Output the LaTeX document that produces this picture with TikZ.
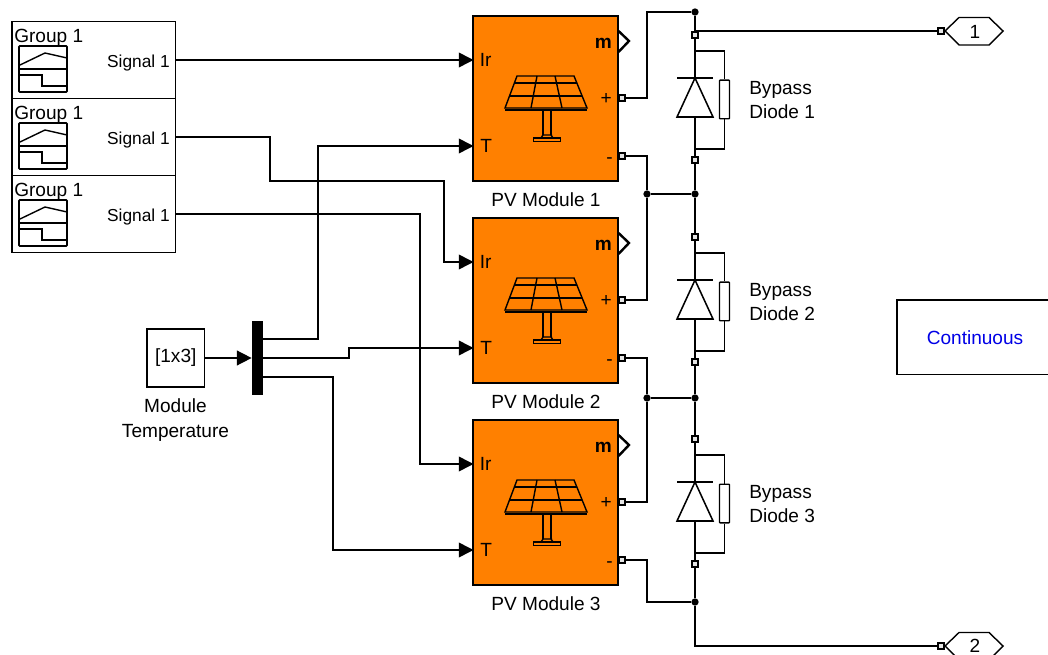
\documentclass[tikz,border=0pt]{standalone}
\usepackage{xcolor}
\usepackage{fontspec}
\setmainfont{Liberation Sans}
\usetikzlibrary{arrows.meta, calc}
\definecolor{pvorange}{RGB}{255, 128, 0}
\definecolor{solverblue}{RGB}{0, 0, 230}

\begin{document}
\begin{tikzpicture}[
  x=0.75pt, y=-0.75pt,
  wire/.style={line width=1.15pt, black},
  arr/.style={wire, -{Triangle[length=11pt, width=11pt]}},
  module/.style={draw, fill=pvorange, line width=1.4pt, minimum width=108.5pt, minimum height=124pt, inner sep=0pt},
  groupbox/.style={draw, fill=white, line width=1.2pt, minimum width=122.5pt, minimum height=57.5pt, inner sep=0pt},
  constbox/.style={draw, line width=1pt, minimum width=43pt, minimum height=43.5pt, inner sep=0pt, font=\fontsize{14.3}{17}\selectfont},
  mux/.style={fill=black, minimum width=8pt, minimum height=56pt, inner sep=0pt},
  portbox/.style={draw=black, fill=black!10, line width=1.6pt, minimum size=4pt, inner sep=0pt},
  junction/.style={circle, fill=black, minimum size=5.5pt, inner sep=0pt},
  resbox/.style={draw, fill=white, rounded corners=0.5pt, line width=1pt, minimum width=7.5pt, minimum height=29pt, inner sep=0pt},
  lbl/.style={font=\fontsize{14.3}{18.5}\selectfont, align=center, inner sep=0pt},
  sig/.style={font=\fontsize{13}{16}\selectfont, inner sep=0pt},
  icon/.style={line width=1.05pt},
  outport/.style={line width=1.05pt}
]
  \useasboundingbox (0,0) rectangle (1048,655);

  % Signal groups
  \foreach \i/\y in {1/60, 2/137, 3/214} {
    \node[groupbox] (group\i) at (93.75,\y) {};
    \node[lbl, anchor=base west] (grouptext\i) at (14,\y-17) {Group 1};
    \node[sig, anchor=east] (signal\i) at (170,\y+3) {Signal 1};
    \draw[line width=1.2pt, rounded corners=0.6pt] (19,\y-14) rectangle (67,\y+32);
    \draw[icon] (19,\y+9) -- (67,\y+9);
    \draw[icon] (20,\y+5) -- (45,\y-7) -- (67,\y-2);
    \draw[icon] (20,\y+15) -- (42,\y+15) -- (42,\y+26) -- (67,\y+26);
  }

  % Temperature source
  \node[constbox] (temp) at (175.75,358) {\raisebox{-3.7pt}[0pt][0pt]{[1x3]}};
  \node[lbl] (templabel) at (175.5,420) {Module\\Temperature};
  \node[mux] (mux) at (257.25,358) {};
  \coordinate (muxa) at (262.5,339);
  \coordinate (muxc) at (262.5,377);

  % PV modules, bypass diodes
  \foreach \i/\y in {1/0, 2/202, 3/404} {
    \node[module] (pv\i) at (545.75,98.5+\y) {};
    \node[lbl] (pvlabel\i) at (546,200+\y) {PV Module \i};
    \coordinate (ir\i) at (473.5,60+\y);
    \coordinate (t\i) at (473.5,146+\y);
    \node[lbl, anchor=west] (irtext\i) at (479.5,60+\y) {Ir};
    \node[lbl, anchor=west] (ttext\i) at (480,146+\y) {T};
    \node[lbl, anchor=east, font=\fontsize{14.3}{17}\bfseries] (mtext\i) at (612,43+\y) {m};
    \node[lbl, anchor=east] (plustext\i) at (612,99+\y) {+};
    \node[lbl, anchor=east] (minustext\i) at (613,161+\y) {-};
    \draw[line width=1.8pt] (618.5,31+\y) -- (629,41+\y) -- (618.5,52+\y);

    % panel
    \draw[icon] (517,76+\y) -- (574,76+\y) -- (587,108+\y) -- (505,108+\y) -- cycle;
    \draw[icon] (514,83+\y) -- (577,83+\y) (509,96+\y) -- (582,96+\y);
    \draw[icon] (537,76+\y) -- (531,108+\y) (555,76+\y) -- (562,108+\y);
    \draw[icon] (505,110+\y) -- (587,110+\y);
    \draw[icon] (543,110+\y) -- (543,135+\y) (551,110+\y) -- (551,135+\y);
    \draw[icon] (543,135+\y) -- (541,138+\y) (551,135+\y) -- (553,138+\y) (542,135+\y) -- (552,135+\y);
    \draw[icon] (533.5,138+\y) rectangle (560.5,141.5+\y);

    \node[portbox] (plus\i) at (622,98+\y) {};
    \node[portbox] (minus\i) at (622,156+\y) {};
    \node[portbox] (top\i) at (695,35+\y) {};
    \node[portbox] (bot\i) at (695,160+\y) {};

    % diode
    \coordinate (anode\i) at (695,78+\y);
    \coordinate (cathode\i) at (695,117+\y);
    \node[resbox] (res\i) at (724.5,99.5+\y) {};
    \draw[wire] (top\i) -- (anode\i);
    \draw[wire] (cathode\i) -- (bot\i);
    \draw[wire, line join=miter] (anode\i) -- (713,117+\y) -- (677,117+\y) -- cycle;
    \draw[wire] (677,78+\y) -- (713,78+\y);
    \draw[wire] (695,51+\y) -| (res\i.north);
    \draw[wire] (res\i.south) |- (695,149+\y);
    \node[lbl, anchor=west, align=left] (bypass\i) at (749,100+\y) {Bypass\\Diode \i};
  }

  % Junctions
  \node[junction] (jtop) at (695,12) {};
  \node[junction] (j1) at (647,194) {};
  \node[junction] (j1b) at (695,194) {};
  \node[junction] (j2) at (647,398) {};
  \node[junction] (j2b) at (695,398) {};
  \node[junction] (jbot) at (695,602) {};

  % Outports
  \node[portbox] (out1port) at (941,31) {};
  \node[portbox] (out2port) at (941,646) {};
  \draw[outport] (945,31) -- (959,17.5) -- (989,17.5) -- (1003,31) -- (989,45) -- (959,45) -- cycle;
  \draw[outport] (945,646) -- (959,632.5) -- (989,632.5) -- (1003,646) -- (989,660) -- (959,660) -- cycle;
  \node[lbl] (out1) at (975,32) {1};
  \node[lbl] (out2) at (975,645.5) {2};

  % Solver block
  \node[draw, line width=1pt, minimum width=117pt, minimum height=56pt, inner sep=0pt] (solver) at (975,337.5) {};
  \node[lbl, text=solverblue] (solvertext) at (975,337.5) {Continuous};

  % Arrows
  \draw[arr] (group1.east) -- (ir1);
  \draw[arr] (group2.east) -| (270,181) -- (444,181) |- (ir2);
  \draw[arr] (group3.east) -| (420,300) |- (ir3);
  \draw[arr] (temp.east) -- (mux.west);
  \draw[arr] (muxa) -| (318,250) |- (t1);
  \draw[arr] (mux.east) -| (349,348) -- (t2);
  \draw[arr] (muxc) -| (333,450) |- (t3);

  % Electrical wires
  \draw[wire] (plus1) -| (647,12) -- (jtop);
  \draw[wire] (jtop) -- (top1);
  \draw[wire] (top1) |- (out1port);
  \draw[wire] (minus1) -| (j1);
  \draw[wire] (j1) -- (j1b);
  \draw[wire] (bot1) -- (j1b);
  \draw[wire] (j1b) -- (top2);
  \draw[wire] (plus2) -| (j1);
  \draw[wire] (minus2) -| (j2);
  \draw[wire] (j2) -- (j2b);
  \draw[wire] (bot2) -- (j2b);
  \draw[wire] (j2b) -- (top3);
  \draw[wire] (plus3) -| (j2);
  \draw[wire] (minus3) -| (647,602) -- (jbot);
  \draw[wire] (bot3) -- (jbot);
  \draw[wire] (jbot) |- (out2port);
\end{tikzpicture}
\end{document}
